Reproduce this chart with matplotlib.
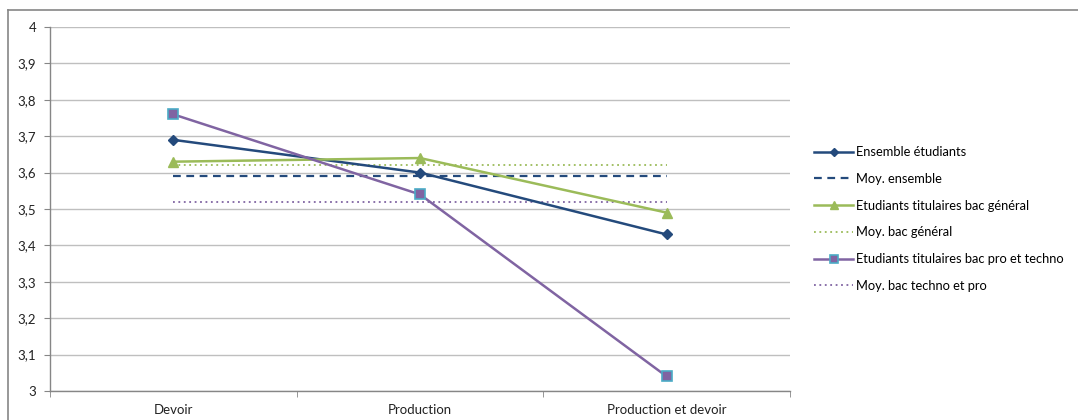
import matplotlib
matplotlib.use("Agg")
import matplotlib.pyplot as plt
from matplotlib.lines import Line2D

plt.rcParams['font.family'] = ['Lato', 'DejaVu Sans']

categories = ["Devoir", "Production", "Production et devoir"]
ensemble = [3.69, 3.60, 3.43]
moy_ensemble = 3.59
bac_general = [3.63, 3.64, 3.49]
moy_general = 3.62
bac_pro = [3.76, 3.54, 3.04]
moy_pro = 3.52
yticks = [3.0, 3.1, 3.2, 3.3, 3.4, 3.5, 3.6, 3.7, 3.8, 3.9, 4.0]
ytick_labels = ["3", "3,1", "3,2", "3,3", "3,4", "3,5", "3,6", "3,7", "3,8", "3,9", "4"]

c_blue = "#244A7C"
c_green = "#9BBB59"
c_purple = "#8064A2"
c_teal = "#4BACC6"

W, H = 1078, 420
fig = plt.figure(figsize=(W / 100, H / 100), dpi=100)
ax = fig.add_axes([50 / W, 1 - 391 / H, 740 / W, 364 / H])

x = list(range(len(categories)))
ax.plot(x, ensemble, color=c_blue, lw=1.8, marker="D", ms=5, mfc=c_blue, mec=c_blue,
        label="Ensemble étudiants", zorder=5)
ax.plot([x[0], x[-1]], [moy_ensemble] * 2, color=c_blue, lw=1.6, ls=(0, (3.5, 2.5)),
        label="Moy. ensemble", zorder=4)
ax.plot(x, bac_general, color=c_green, lw=1.8, marker="^", ms=7, mfc=c_green, mec=c_green,
        label="Etudiants titulaires bac général", zorder=5)
ax.plot([x[0], x[-1]], [moy_general] * 2, color=c_green, lw=1.3, ls=(0, (1, 2)),
        label="Moy. bac général", zorder=4)
ax.plot(x, bac_pro, color=c_purple, lw=1.8, marker="s", ms=7, mfc=c_purple, mec=c_teal, mew=1.2,
        label="Etudiants titulaires bac pro et techno", zorder=6)
ax.plot([x[0], x[-1]], [moy_pro] * 2, color=c_purple, lw=1.3, ls=(0, (1, 2)),
        label="Moy. bac techno et pro", zorder=4)

ax.set_xlim(-0.5, len(categories) - 0.5)
ax.set_ylim(3.0, 4.0)
ax.set_yticks(yticks)
ax.set_yticklabels(ytick_labels)
ax.set_xticks(x)
ax.set_xticklabels(categories)
ax.set_xticks([-0.5, 0.5, 1.5, 2.5], minor=True)
ax.tick_params(axis="x", which="major", length=0, pad=9, labelsize=9.5, colors="#222222")
ax.tick_params(axis="x", which="minor", length=4, color="#868686", direction="out")
ax.tick_params(axis="y", length=4, color="#868686", labelsize=9.5, colors="#222222", pad=6)
ax.grid(axis="y", color="#BFBFBF", lw=1.0)
ax.set_axisbelow(True)
for s in ["top", "right"]:
    ax.spines[s].set_visible(False)
for s in ["left", "bottom"]:
    ax.spines[s].set_color("#868686")
    ax.spines[s].set_linewidth(1.0)

leg = fig.legend(loc="upper left", bbox_to_anchor=(809 / W, 1 - 141 / H), frameon=False,
                 fontsize=9.3, handlelength=3.0, handletextpad=0.25, labelspacing=1.14,
                 borderaxespad=0, markerscale=0.8)

# outer chart border (top and left visible)
fig.add_artist(Line2D([8 / W, 1.0], [1 - 10 / H] * 2, color="#868686", lw=1.2,
                      transform=fig.transFigure))
fig.add_artist(Line2D([8 / W] * 2, [0, 1 - 10 / H], color="#868686", lw=1.2,
                      transform=fig.transFigure))

fig.savefig("out.png", dpi=100)
